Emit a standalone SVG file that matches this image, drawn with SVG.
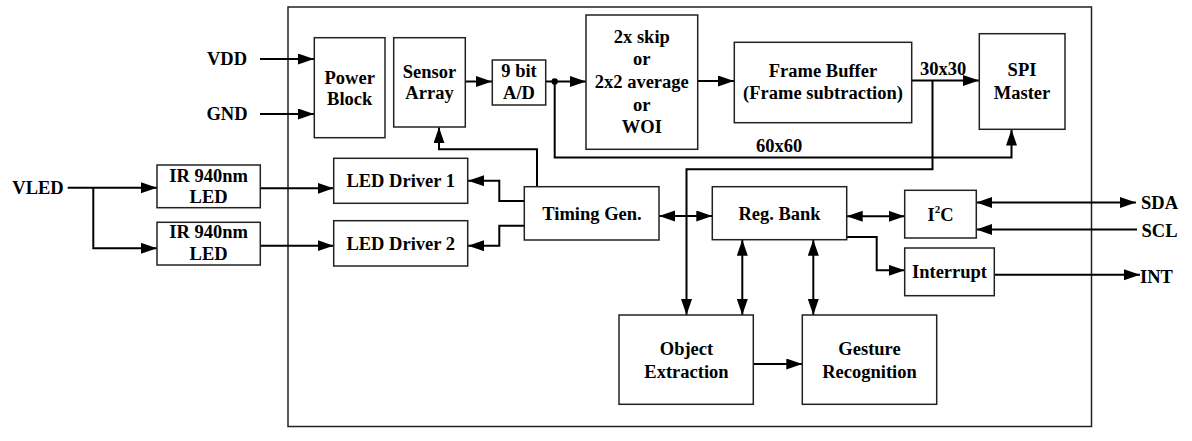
<svg xmlns="http://www.w3.org/2000/svg" width="1192" height="441" viewBox="0 0 1192 441">
<style>
text{font-family:"Liberation Serif","Times New Roman",serif;font-weight:bold;font-size:18.5px;fill:#000;text-anchor:middle}
.box{fill:#fff;stroke:#222;stroke-width:1.5}
.c{fill:none;stroke:#000;stroke-width:2}
.a{marker-end:url(#ah)}
.b{marker-start:url(#ah);marker-end:url(#ah)}
</style>
<defs>
<marker id="ah" markerUnits="userSpaceOnUse" markerWidth="17" markerHeight="12" refX="16" refY="5.5" orient="auto-start-reverse">
<path d="M0,0 L16,5.5 L0,11 z" fill="#000"/>
</marker>
</defs>
<rect x="288" y="7" width="803.5" height="419.5" fill="none" stroke="#222" stroke-width="1.5"/>
<g id="connectors">
<path class="c a" d="M260,59 H314"/>
<path class="c a" d="M260,114 H314"/>
<path class="c a" d="M465.3,81.5 H492"/>
<path class="c a" d="M545.7,81.5 H586"/>
<circle cx="554.7" cy="81.5" r="3.2" fill="#000"/>
<path class="c a" d="M697.7,81 H734"/>
<path class="c a" d="M911.7,80.5 H979"/>
<path class="c a" d="M554.7,81.5 V157.5 H1011.5 V129.5"/>
<path class="c a" d="M932.5,80.5 V169.3 H686.5 V315"/>
<path class="c a" d="M537,186.7 V149.3 H439 V127.3"/>
<path class="c a" d="M524.3,201 H499.3 V180.7 H468"/>
<path class="c a" d="M524.3,225.7 H499.3 V245.7 H468"/>
<path class="c a" d="M260.3,188.3 H333.5"/>
<path class="c a" d="M260.3,245.7 H333.5"/>
<path class="c a" d="M67.7,187.7 H157"/>
<path class="c a" d="M93.3,187.7 V248.3 H157"/>
<path class="c b" d="M659,216 H712.3"/>
<path class="c b" d="M846.7,216.3 H904.7"/>
<path class="c b" d="M976.3,202.5 H1136"/>
<path class="c a" d="M1137,229.5 H976.3"/>
<path class="c a" d="M846.7,237 H876.7 V270.3 H904.7"/>
<path class="c a" d="M994.3,274.7 H1140"/>
<path class="c b" d="M742.3,239.7 V315"/>
<path class="c b" d="M813.3,239.7 V315"/>
<path class="c a" d="M753.3,364 H802.3"/>
</g>
<g id="labels">
<text x="227" y="64.5">VDD</text>
<text x="227" y="120">GND</text>
<text x="38" y="193.5">VLED</text>
<text x="1159.5" y="208.5">SDA</text>
<text x="1159.5" y="236.5">SCL</text>
<text x="1156.5" y="283">INT</text>
<text x="943" y="75">30x30</text>
<text x="779" y="151.5">60x60</text>
</g>
<g id="power-block">
<rect class="box" x="314.3" y="37.7" width="70.7" height="100"/>
<text x="349.7" y="83.5">Power</text>
<text x="349.7" y="104.5">Block</text>
</g>
<g id="sensor-array">
<rect class="box" x="393.7" y="37.7" width="71.6" height="89.3"/>
<text x="429.5" y="77.5">Sensor</text>
<text x="429.5" y="99.3">Array</text>
</g>
<g id="ad">
<rect class="box" x="492.3" y="60" width="53.4" height="45"/>
<text x="519" y="76.7">9 bit</text>
<text x="519" y="99.3">A/D</text>
</g>
<g id="skip">
<rect class="box" x="586" y="15" width="111.7" height="134.3"/>
<text x="641.8" y="42.7">2x skip</text>
<text x="641.8" y="65">or</text>
<text x="641.8" y="88.3">2x2 average</text>
<text x="641.8" y="110.5">or</text>
<text x="641.8" y="133.3">WOI</text>
</g>
<g id="frame-buffer">
<rect class="box" x="734.3" y="42.3" width="177.4" height="80.4"/>
<text x="823" y="76.7">Frame Buffer</text>
<text x="823" y="99.3">(Frame subtraction)</text>
</g>
<g id="spi-master">
<rect class="box" x="979.3" y="33.7" width="85.7" height="95.6"/>
<text x="1022" y="76">SPI</text>
<text x="1022" y="98.7">Master</text>
</g>
<g id="ir-led-1">
<rect class="box" x="157" y="165" width="103.3" height="42.7"/>
<text x="208.6" y="181.7">IR 940nm</text>
<text x="208.6" y="203.3">LED</text>
</g>
<g id="ir-led-2">
<rect class="box" x="157" y="222.3" width="103.3" height="42.7"/>
<text x="208.6" y="238.3">IR 940nm</text>
<text x="208.6" y="260">LED</text>
</g>
<g id="led-driver-1">
<rect class="box" x="333.7" y="158.3" width="134" height="45"/>
<text x="400.7" y="186.7">LED Driver 1</text>
</g>
<g id="led-driver-2">
<rect class="box" x="333.7" y="220.7" width="134" height="45.3"/>
<text x="400.7" y="250">LED Driver 2</text>
</g>
<g id="timing-gen">
<rect class="box" x="524.3" y="186.7" width="134.7" height="53.3"/>
<text x="592" y="220">Timing Gen.</text>
</g>
<g id="reg-bank">
<rect class="box" x="712.3" y="186.7" width="134.4" height="53"/>
<text x="779.5" y="220">Reg. Bank</text>
</g>
<g id="i2c">
<rect class="box" x="904.7" y="190.3" width="71.6" height="47.7"/>
<text x="940.5" y="221">I<tspan font-size="11" dy="-8">2</tspan><tspan dy="8">C</tspan></text>
</g>
<g id="interrupt">
<rect class="box" x="904.7" y="248" width="89.6" height="47.7"/>
<text x="949.5" y="277.7">Interrupt</text>
</g>
<g id="object-extraction">
<rect class="box" x="619" y="315" width="134.3" height="89.3"/>
<text x="686.5" y="355">Object</text>
<text x="686.5" y="377.7">Extraction</text>
</g>
<g id="gesture-recognition">
<rect class="box" x="802.3" y="315" width="134.4" height="89.3"/>
<text x="869.5" y="355">Gesture</text>
<text x="869.5" y="377.7">Recognition</text>
</g>
</svg>
